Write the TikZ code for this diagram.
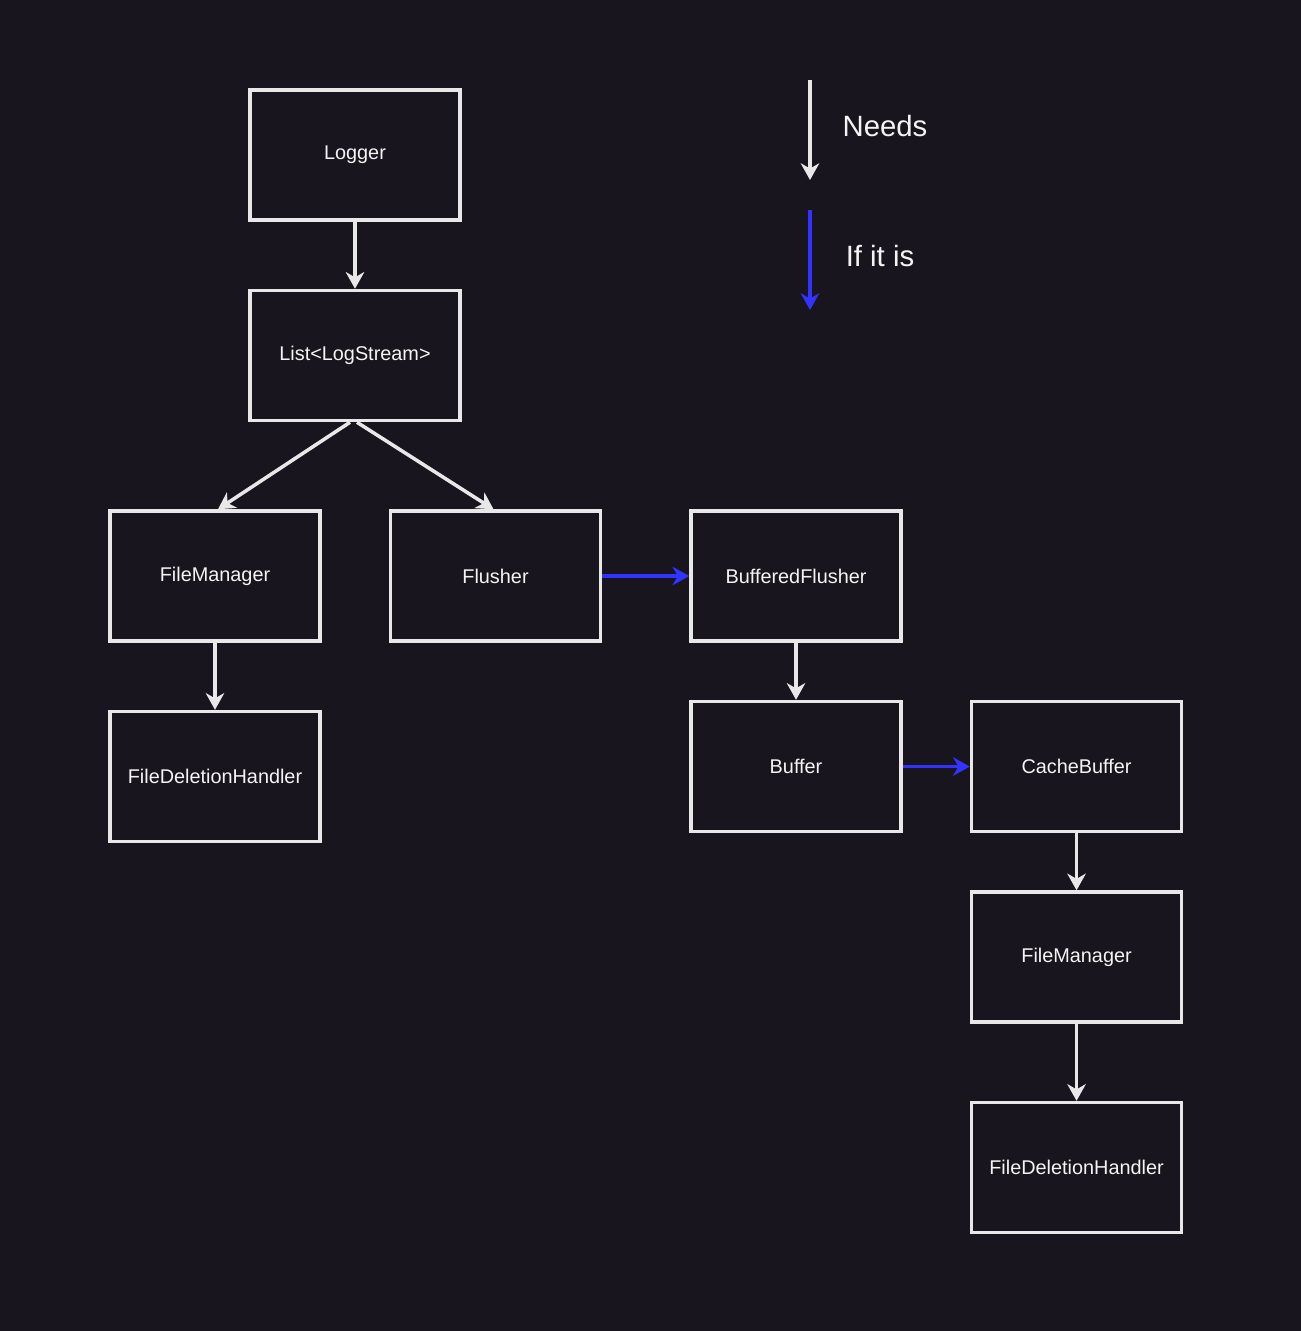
\documentclass[tikz,border=0pt]{standalone}
\usepackage{fontspec}
\setmainfont{Liberation Sans}
\usetikzlibrary{shapes,arrows,arrows.meta,positioning}
\definecolor{bgDark}{HTML}{18151E}
\definecolor{boxLine}{HTML}{E8E8E8}
\definecolor{textLight}{HTML}{F4F4F4}
\definecolor{ifBlue}{HTML}{3333FF}
\tikzset{>={Stealth[length=9.5pt,width=10.5pt,inset=3pt]},
         every node/.style={text=textLight}}
\tikzstyle{block} = [rectangle, draw=boxLine, line width=2pt, text centered,
minimum width=4.2cm, minimum height=2.6cm, font=\fontsize{11.3}{13}\selectfont]
\tikzstyle{legendText} = [font=\fontsize{16.7}{19}\selectfont]
\tikzstyle{line} = [draw=boxLine, line width=2pt, ->]
\tikzstyle{lineB} = [draw=ifBlue, line width=2pt, ->]

\begin{document}
\begin{tikzpicture}

   \fill[bgDark] (-7.1,3.1) rectangle (18.92,-23.52);

   \node[block] (logger) {Logger};
   \node[block] (list) [below = 1.34cm of logger] {List<LogStream>};

   \node[block] (fm1) [below = 1.74cm of list, xshift = -2.8cm] {FileManager};
   \node[block] (flusher) [right = 1.34cm of fm1] {Flusher};
   \node[block] (fdh1) [below = 1.34cm of fm1] {FileDeletionHandler};

   \node[block] (bflusher) [right = 1.74cm of flusher] {BufferedFlusher};
   \node[block] (buffer) [below = 1.14cm of bflusher] {Buffer};
   \node[block] (cbuffer) [right = 1.34cm of buffer] {CacheBuffer};
   \node[block] (fm2) [below = 1.14cm of cbuffer] {FileManager};
   \node[block] (fdh2) [below = 1.54cm of fm2] {FileDeletionHandler};

   %% Lines

   \path[line] (logger) -- (list);
   \path[line] ([xshift=-0.1cm]list.south) -- ([xshift=0.06cm]fm1.north);
   \path[line] ([xshift=0.04cm]list.south) -- ([xshift=-0.04cm]flusher.north);
   \path[line] (fm1) -- (fdh1);
   \path[lineB] (flusher) -- (bflusher);
   \path[line] (bflusher) -- (buffer);
   \path[lineB] (buffer) -- (cbuffer);
   \path[line] (cbuffer) -- (fm2);
   \path[line] (fm2) -- (fdh2);

   %% Legend

   \coordinate (needsTop) at ([xshift=9.1cm,yshift=1.5cm]logger.center);
   \coordinate (needsBot) at ([yshift=-2cm]needsTop);
   \coordinate (ifTop) at ([yshift=-2.6cm]needsTop);
   \coordinate (ifBot) at ([yshift=-2cm]ifTop);

   \path[line] (needsTop) -- (needsBot);
   \path[lineB] (ifTop) -- (ifBot);

   \node[legendText] (needsText) at ([xshift=1.5cm,yshift=-0.92cm]needsTop) {Needs};
   \node[legendText] (ifText) at ([xshift=1.4cm,yshift=-0.92cm]ifTop) {If it is};

\end{tikzpicture}
\end{document}
